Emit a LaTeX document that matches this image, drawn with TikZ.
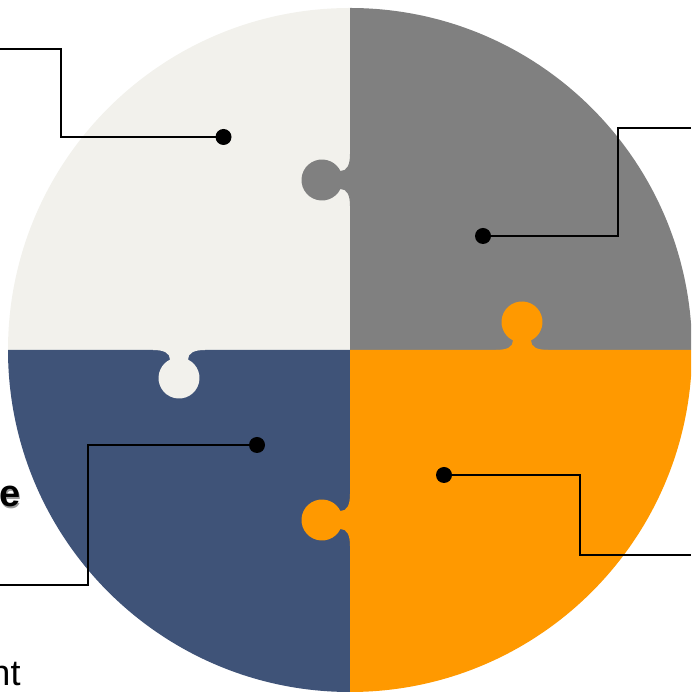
\documentclass[tikz,border=0pt]{standalone}
\usepackage{fontspec}
\setmainfont{Liberation Sans}
\definecolor{piececream}{HTML}{F2F1EC}
\definecolor{piecegray}{HTML}{808080}
\definecolor{piecenavy}{HTML}{3F5378}
\definecolor{pieceorange}{HTML}{FF9900}
\tikzset{
  leader/.style={line width=2.8pt, black},
  dotmark/.style={circle, fill=black, minimum size=16pt, inner sep=0pt},
  puzzletab/.pic={
    \path[pic actions] (-26,-1) -- (-26,0)
      .. controls (-15,0) and (-9,3) .. (-9,9.6)
      arc[start angle=244, end angle=-64, radius=20.5]
      .. controls (9,3) and (15,0) .. (26,0) -- (26,-1) -- cycle;
  },
}
\begin{document}
\begin{tikzpicture}[x=1pt,y=1pt]
\useasboundingbox (0,0) rectangle (691,692);
\clip (0,0) rectangle (691,692);
\coordinate (O) at (350,342);
% four quarters of the disc
\fill[piececream] (O) -- (8,342) arc[start angle=180, end angle=90, radius=342] -- cycle;
\fill[piecegray] (O) -- (350,684) arc[start angle=90, end angle=0, radius=342] -- cycle;
\fill[piecenavy] (O) -- (350,0) arc[start angle=270, end angle=180, radius=342] -- cycle;
\fill[pieceorange] (O) -- (692,342) arc[start angle=0, end angle=-90, radius=342] -- cycle;
% interlocking tabs
\pic[rotate=90, fill=piecegray] at (350,512) {puzzletab};
\pic[rotate=180, fill=piececream] at (179,342) {puzzletab};
\pic[fill=pieceorange] at (522,342) {puzzletab};
\pic[rotate=90, fill=pieceorange] at (350,172) {puzzletab};
% callout dots
\node[dotmark] (d1) at (223.5,555) {};
\node[dotmark] (d2) at (483,456) {};
\node[dotmark] (d3) at (257,247) {};
\node[dotmark] (d4) at (444,217) {};
% leader bends and ends
\coordinate (b1) at (61,643);  \coordinate (e1) at (0,643);
\coordinate (b2) at (618,564); \coordinate (e2) at (691,564);
\coordinate (b3) at (88,107);  \coordinate (e3) at (0,107);
\coordinate (b4) at (580,137); \coordinate (e4) at (691,137);
\draw[leader] (d1.center) -| (b1) -- (e1);
\draw[leader] (d2.center) -| (b2) -- (e2);
\draw[leader] (d3.center) -| (b3) -- (e3);
\draw[leader] (d4.center) -| (b4) -- (e4);
% text fragments
\node[anchor=base west, inner sep=0pt, text=black!40, font=\fontsize{38}{40}\selectfont\bfseries] (es) at (0.6,183.2) {e};
\node[anchor=base west, inner sep=0pt, font=\fontsize{38}{40}\selectfont\bfseries] (e) at (-1.2,185) {e};
\node[anchor=base west, inner sep=0pt, font=\fontsize{36}{40}\selectfont] (nt) at (-9.7,6) {nt};
\end{tikzpicture}
\end{document}
